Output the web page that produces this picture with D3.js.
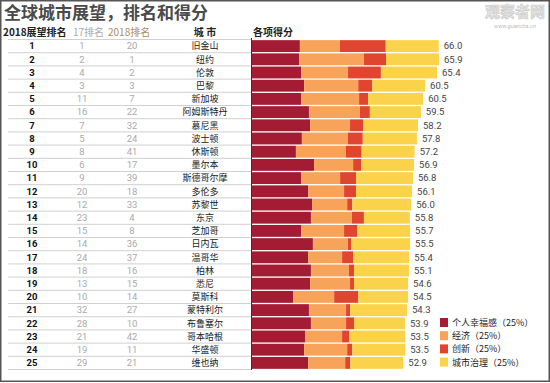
<!DOCTYPE html>
<html>
<head>
<meta charset="utf-8">
<script src="https://cdn.jsdelivr.net/npm/d3@7"></script>
<style>
  body { margin: 0; background: #fff; }
  svg { display: block; font-family: "Noto Sans CJK SC", "Noto Sans", sans-serif; }
  .num { font-family: Roboto, "Noto Sans", sans-serif; }
</style>
</head>
<body>
<svg id="chart" width="550" height="383"></svg>
<script>
// Outlook ranking table with stacked component scores
const outlookRank = [1,2,3,4,5,6,7,8,9,10,11,12,13,14,15,16,17,18,19,20,21,22,23,24,25];
const rank17 = [1,2,4,3,11,16,7,5,8,6,9,20,12,23,15,14,24,18,13,10,32,28,21,19,29];
const rank2018 = [20,1,2,3,7,22,32,24,41,17,39,18,33,4,8,36,37,16,15,14,27,10,42,11,21];
const cities = ["旧金山","纽约","伦敦","巴黎","新加坡","阿姆斯特丹","慕尼黑","波士顿","休斯顿","墨尔本",
  "斯德哥尔摩","多伦多","苏黎世","东京","芝加哥","日内瓦","温哥华","柏林","悉尼","莫斯科",
  "蒙特利尔","布鲁塞尔","哥本哈根","华盛顿","维也纳"];
const totals = [66.0,65.9,65.4,60.5,60.5,59.5,58.2,57.8,57.2,56.9,56.8,56.1,56.0,55.8,55.7,55.5,55.4,55.1,54.6,54.5,54.3,53.9,53.5,53.5,52.9];

// component scores (weighted)
const happiness  = [16.9,16.6,17.3,18.4,17.3,20.1,20.5,17.6,15.5,21.9,17.3,19.8,21.2,20.8,17.3,21.5,19.8,20.8,20.5,14.5,20.1,20.8,18.7,18.4,19.8];
const economy    = [14.1,22.9,16.6,19.1,20.5,18.0,14.1,16.2,17.6,13.8,13.8,12.7,12.4,14.5,15.2,12.4,12.0,13.4,14.1,14.5,13.1,12.4,13.1,15.2,13.1];
const innovation = [16.2,7.8,11.6,4.9,3.2,3.5,4.6,5.3,5.6,2.8,5.6,4.2,1.8,4.2,4.6,1.1,3.9,1.8,1.4,8.5,1.4,2.8,2.5,1.8,1.8];
const governance = [18.7,18.7,19.8,18.7,19.4,18.0,19.4,19.1,18.7,18.7,20.1,19.8,20.8,16.2,18.7,20.8,19.8,19.4,19.1,17.6,20.1,18.0,19.8,18.7,18.7];

const seriesKeys = ["happiness","economy","innovation","governance"];
const seriesLabels = ["个人幸福感（25%）","经济（25%）","创新（25%）","城市治理（25%）"];
const seriesColors = ["#a31c33","#f7a35a","#e0452f","#fbd34b"];

const rows = cities.map((c, i) => ({
  city: c, rank: outlookRank[i], r17: rank17[i], r18: rank2018[i], total: totals[i],
  happiness: happiness[i], economy: economy[i], innovation: innovation[i], governance: governance[i]
}));

const svg = d3.select("#chart");

const y = d3.scaleBand()
  .domain(rows.map(d => d.city))
  .range([39.5, 369.5])
  .paddingInner(0.1)
  .paddingOuter(0.05);

const x = d3.scaleLinear().domain([0, 66]).range([252, 439]);

const color = d3.scaleOrdinal().domain(seriesKeys).range(seriesColors);

// Title
svg.append("text")
  .attr("x", 4).attr("y", 19)
  .style("font-size", "17px").style("font-weight", "700")
  .style("fill", "#4a4a4a")
  .text("全球城市展望，排名和得分");

// Watermark
svg.append("text")
  .attr("x", 515).attr("y", 17)
  .attr("text-anchor", "middle")
  .style("font-size", "15px").style("font-weight", "700")
  .style("fill", "#e6e6e6").style("stroke", "#c8c8c8").style("stroke-width", 0.6)
  .text("观察者网");
svg.append("text")
  .attr("class", "num")
  .attr("x", 515).attr("y", 28)
  .attr("text-anchor", "middle")
  .style("font-size", "5.5px")
  .style("fill", "#bbb")
  .text("www.guancha.cn");

// Header row
const header = svg.append("g").style("font-size", "10px");
header.append("text").attr("x", 3).attr("y", 35.5)
  .style("font-weight", "700").style("fill", "#222").text("2018展望排名");
header.append("text").attr("x", 73).attr("y", 35.5)
  .style("fill", "#aaa").text("17排名");
header.append("text").attr("x", 108).attr("y", 35.5)
  .style("fill", "#b08a5e").text("2018排名");
header.append("text").attr("x", 205).attr("y", 35.5).attr("text-anchor", "middle")
  .style("font-weight", "700").style("fill", "#222").text("城 市");
header.append("text").attr("x", 253).attr("y", 35.5)
  .style("font-weight", "700").style("fill", "#222").text("各项得分");

// Row separators
const step = y.step();
const bounds = d3.range(rows.length + 1).map(i => y.range()[0] + i * step);
svg.append("g").selectAll("line")
  .data(bounds)
  .join("line")
  .attr("x1", 8).attr("x2", 251)
  .attr("y1", d => d).attr("y2", d => d)
  .attr("stroke", "#c4c4c4").attr("stroke-width", 0.8);

// Table columns
const table = svg.append("g").selectAll("g")
  .data(rows)
  .join("g")
  .attr("transform", d => `translate(0, ${y(d.city) + y.bandwidth() / 2 + 3.3})`);

table.append("text").attr("class", "num").attr("x", 32).attr("text-anchor", "middle")
  .style("font-size", "9.5px").style("font-weight", "700").style("fill", "#111")
  .text(d => d.rank);
table.append("text").attr("class", "num").attr("x", 82).attr("text-anchor", "middle")
  .style("font-size", "9.5px").style("fill", "#aaa")
  .text(d => d.r17);
table.append("text").attr("class", "num").attr("x", 132).attr("text-anchor", "middle")
  .style("font-size", "9.5px").style("fill", "#aaa")
  .text(d => d.r18);
table.append("text").attr("x", 205).attr("text-anchor", "middle")
  .style("font-size", "9px").style("fill", "#222")
  .text(d => d.city);

// Stacked bars
const stacked = d3.stack().keys(seriesKeys)(rows);
svg.append("g").selectAll("g")
  .data(stacked)
  .join("g")
  .attr("fill", s => color(s.key))
  .selectAll("rect")
  .data(s => s)
  .join("rect")
  .attr("x", d => x(d[0]))
  .attr("y", d => y(d.data.city))
  .attr("width", d => x(d[1]) - x(d[0]))
  .attr("height", y.bandwidth());

// Totals
svg.append("g").selectAll("text")
  .data(rows)
  .join("text")
  .attr("class", "num")
  .attr("x", d => x(d3.sum(seriesKeys, k => d[k])) + 5)
  .attr("y", d => y(d.city) + y.bandwidth() / 2 + 3.3)
  .style("font-size", "9.5px").style("fill", "#444")
  .text(d => d3.format(".1f")(d.total));

// Vertical axis line
svg.append("line")
  .attr("x1", 251.5).attr("x2", 251.5)
  .attr("y1", 38).attr("y2", 370)
  .attr("stroke", "#333").attr("stroke-width", 1);

// Legend
const legend = svg.append("g").selectAll("g")
  .data(seriesKeys)
  .join("g")
  .attr("transform", (d, i) => `translate(440, ${318 + i * 13.2})`);
legend.append("rect")
  .attr("width", 8).attr("height", 9)
  .attr("fill", d => color(d));
legend.append("text")
  .attr("x", 12).attr("y", 8)
  .style("font-size", "9px").style("fill", "#222")
  .text((d, i) => seriesLabels[i]);

// Frame
svg.append("rect")
  .attr("x", 0.75).attr("y", 0.75)
  .attr("width", 548.5).attr("height", 380.5)
  .attr("fill", "none").attr("stroke", "#555").attr("stroke-width", 1.5);
</script>
</body>
</html>
